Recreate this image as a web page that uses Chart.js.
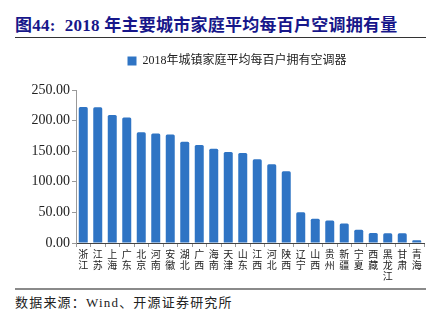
<!DOCTYPE html>
<html>
<head>
<meta charset="utf-8">
<script src="https://cdn.jsdelivr.net/npm/chart.js@4.4.1/dist/chart.umd.min.js"></script>
<style>
	html, body { margin: 0; padding: 0; background: #fff; }
	body {
		width: 447px; height: 321px; position: relative; overflow: hidden;
		font-family: "Liberation Serif", "Noto Sans CJK SC", serif;
	}
	#title {
		position: absolute; left: 15px; top: 11px; letter-spacing: 0.25px;
		font-size: 17px; font-weight: bold; color: #17178a; white-space: nowrap;
	}
	#rule1 { position: absolute; left: 15px; top: 37px; width: 411px; height: 1px; background: #333; }
	#box { position: absolute; left: 0; top: 44px; width: 447px; height: 240px; }
	#rule2 { position: absolute; left: 15px; top: 288px; width: 411px; height: 2px; background: #8a8a8a; }
	#source {
		position: absolute; left: 15px; top: 292px;
		font-size: 13px; color: #222; white-space: nowrap; letter-spacing: 1.2px;
	}
</style>
</head>
<body>
<div id="title">图44:&nbsp; 2018 年主要城市家庭平均每百户空调拥有量</div>
<div id="rule1"></div>
<div id="box"><canvas id="chart"></canvas></div>
<div id="rule2"></div>
<div id="source">数据来源：Wind、开源证券研究所</div>

<script>
// 省份（按拥有量排序）
const provinces = ['浙江', '江苏', '上海', '广东', '北京', '河南', '安徽', '湖北',
	'广西', '海南', '天津', '山东', '江西', '河北', '陕西', '辽宁',
	'山西', '贵州', '新疆', '宁夏', '西藏', '黑龙江', '甘肃', '青海'];

// 2018年城镇家庭平均每百户拥有空调器（台）
const acPer100 = [222.4, 221.8, 209.0, 205.0, 181.0, 178.8, 177.2, 165.6,
	160.3, 154.0, 148.6, 147.0, 137.0, 128.5, 117.3, 50.4,
	39.8, 36.6, 31.8, 21.8, 16.4, 16.0, 16.0, 4.3];

const seriesName = '2018年城镇家庭平均每百户拥有空调器';
const yTicks = [0, 50, 100, 150, 200, 250];

const serif = '"Liberation Serif", "Noto Sans CJK SC", serif';

// 竖排标签：每个字一行
const verticalLabels = provinces.map(p => p.split(''));

// 图例位置微调：右移并上移
const legendShift = {
	id: 'legendShift',
	afterLayout(chart) {
		const lg = chart.legend;
		if (!lg) return;
		lg.left += 25;
		lg.right += 25;
		lg.top -= 13;
		lg.bottom -= 13;
	}
};

new Chart(document.getElementById('chart'), {
	type: 'bar',
	data: {
		labels: verticalLabels,
		datasets: [{
			label: seriesName,
			data: acPer100,
			backgroundColor: '#2f74c4',
			borderWidth: 0,
			borderRadius: { topLeft: 1.5, topRight: 1.5 },
			barPercentage: 0.62,
			categoryPercentage: 1
		}]
	},
	options: {
		responsive: true,
		maintainAspectRatio: false,
		animation: false,
		layout: { padding: { left: 0, right: 23, top: 12, bottom: 0 } },
		plugins: {
			tooltip: { enabled: false },
			legend: {
				display: true,
				position: 'top',
				labels: {
					boxWidth: 9,
					boxHeight: 9,
					padding: 12,
					color: '#222',
					font: { family: serif, size: 12 }
				}
			}
		},
		scales: {
			x: {
				grid: {
					display: true,
					drawOnChartArea: false,
					drawTicks: true,
					tickLength: 4,
					tickColor: '#999',
					offset: true
				},
				border: { display: true, color: '#444', width: 1 },
				ticks: {
					autoSkip: false,
					maxRotation: 0,
					minRotation: 0,
					padding: 3,
					color: '#222',
					font: { family: serif, size: 10, lineHeight: 1.1 }
				},
				afterFit: scale => { scale.height = 41; }
			},
			y: {
				min: 0,
				max: 250,
				afterBuildTicks: scale => { scale.ticks = yTicks.map(v => ({ value: v })); },
				grid: {
					display: true,
					drawOnChartArea: false,
					drawTicks: true,
					tickLength: 4,
					tickColor: '#999'
				},
				border: { display: true, color: '#999', width: 1 },
				ticks: {
					padding: 2,
					color: '#222',
					font: { family: serif, size: 14 },
					callback: v => Number(v).toFixed(2)
				},
				afterFit: scale => { scale.width = 76; }
			}
		}
	},
	plugins: [legendShift]
});
</script>
</body>
</html>
